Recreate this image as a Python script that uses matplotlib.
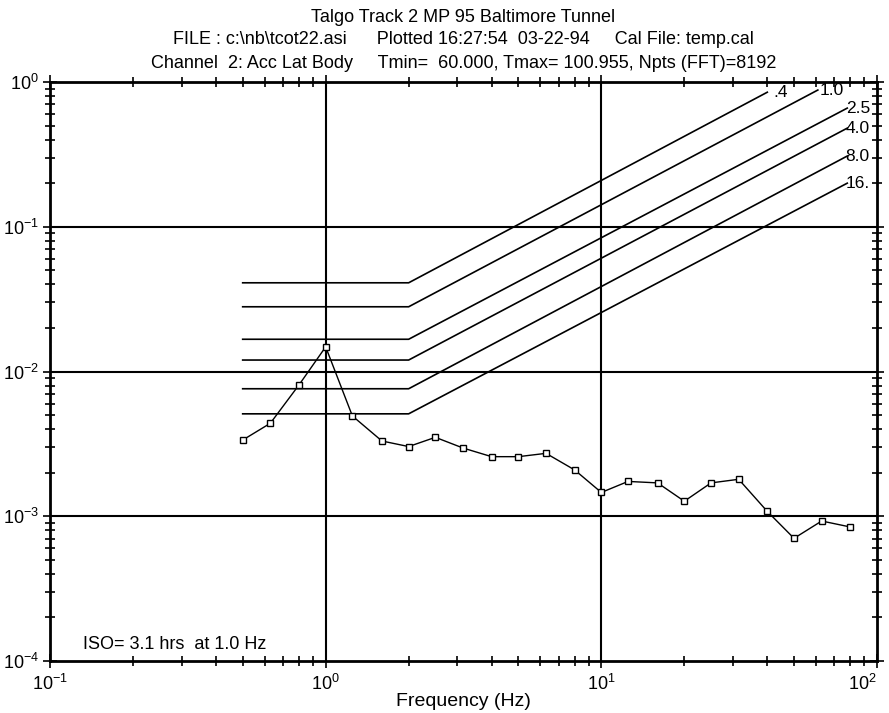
import matplotlib
matplotlib.use("Agg")
import matplotlib.pyplot as plt
from matplotlib.ticker import LogLocator, NullFormatter

plt.rcParams['font.family'] = ['Liberation Sans', 'DejaVu Sans']
plt.rcParams['mathtext.fontset'] = 'custom'
plt.rcParams['mathtext.rm'] = 'Liberation Sans'
plt.rcParams['mathtext.it'] = 'Liberation Sans'

# --- measured spectrum (1/3 octave bands)
freq = [0.5, 0.63, 0.8, 1.0, 1.25, 1.6, 2.0, 2.5, 3.15, 4.0, 5.0, 6.3, 8.0,
        10.0, 12.5, 16.0, 20.0, 25.0, 31.5, 40.0, 50.0, 63.0, 80.0]
accel = [0.00336, 0.00439, 0.00807, 0.0148, 0.00493, 0.00331, 0.00303, 0.00351,
         0.00296, 0.00258, 0.00258, 0.00272, 0.00209, 0.00146, 0.00174, 0.0017,
         0.00127, 0.0017, 0.0018, 0.00108, 0.000704, 0.000927, 0.000843]

# --- ISO exposure curves (hours): flat part 0.5-2 Hz, then rising to end point
iso_labels = ['.4', '1.0', '2.5', '4.0', '8.0', '16.']
iso_flat = [0.041, 0.028, 0.0167, 0.012, 0.0076, 0.0051]
iso_f_start = 0.5
iso_f_knee = 2.0
iso_end_f = [40.0, 61.0, 78.0, 78.0, 78.0, 78.0]
iso_end_v = [0.85, 0.88, 0.66, 0.48, 0.308, 0.2]
iso_label_f = [42.0, 62.0, 77.0, 77.0, 77.0, 77.0]

# axis ticks
x_ticks = [0.1, 1, 10, 100]
x_ticklabels = ['$10^{-1}$', '$10^{0}$', '$10^{1}$', '$10^{2}$']
y_ticks = [1e-4, 1e-3, 1e-2, 1e-1, 1]
y_ticklabels = ['$10^{-4}$', '$10^{-3}$', '$10^{-2}$', '$10^{-1}$', '$10^{0}$']

fig = plt.figure(figsize=(8.89, 7.13), dpi=100)
ax = fig.add_axes([50 / 889, 52 / 713, 827 / 889, 579 / 713])

ax.set_xscale('log')
ax.set_yscale('log')
ax.set_xlim(0.1, 100)
ax.set_ylim(1e-4, 1)

# decade grid lines
for d in [1, 10]:
    ax.axvline(d, color='black', lw=1.5, zorder=1)
for d in [1e-1, 1e-2, 1e-3]:
    ax.axhline(d, color='black', lw=1.5, zorder=1)

for i in range(len(iso_labels)):
    xs = [iso_f_start, iso_f_knee, iso_end_f[i]]
    ys = [iso_flat[i], iso_flat[i], iso_end_v[i]]
    ax.plot(xs, ys, color='black', lw=1.2, zorder=2)
    ax.text(iso_label_f[i], iso_end_v[i], iso_labels[i], fontsize=12.5,
            ha='left', va='center', zorder=3)

ax.plot(freq, accel, color='black', lw=1.0, marker='s', markersize=5,
        markerfacecolor='white', markeredgecolor='black', markeredgewidth=1.0,
        zorder=4)

ax.text(0.04, 0.028, 'ISO= 3.1 hrs  at 1.0 Hz', transform=ax.transAxes,
        fontsize=13, ha='left', va='center')

# ticks
ax.set_xticks(x_ticks, labels=x_ticklabels)
ax.set_yticks(y_ticks, labels=y_ticklabels)
for a in [ax.xaxis, ax.yaxis]:
    a.set_minor_locator(LogLocator(base=10, subs=range(2, 10), numticks=10))
    a.set_minor_formatter(NullFormatter())
ax.tick_params(which='both', direction='inout', top=True, right=True,
               width=1.2, labelsize=13)
ax.tick_params(which='major', length=10)
ax.tick_params(which='minor', length=7)
ax.tick_params(axis='x', pad=4)
ax.tick_params(axis='y', pad=3)
for s in ax.spines.values():
    s.set_linewidth(2)

# keep the last x label inside the figure
ax.get_xticklabels()[-1].set_horizontalalignment('right')

cx = (50 + 877) / 2 / 889
fig.text(cx, 11 / 713, 'Frequency (Hz)', ha='center', va='center', fontsize=14)

fig.text(cx, 1 - 17 / 713, 'Talgo Track 2 MP 95 Baltimore Tunnel', ha='center',
         va='center', fontsize=13)
fig.text(cx, 1 - 40 / 713, r'FILE : c:\nb\tcot22.asi      Plotted 16:27:54  03-22-94     Cal File: temp.cal',
         ha='center', va='center', fontsize=13)
fig.text(cx, 1 - 63 / 713, 'Channel  2: Acc Lat Body     Tmin=  60.000, Tmax= 100.955, Npts (FFT)=8192',
         ha='center', va='center', fontsize=13)

fig.savefig('out.png', dpi=100)
